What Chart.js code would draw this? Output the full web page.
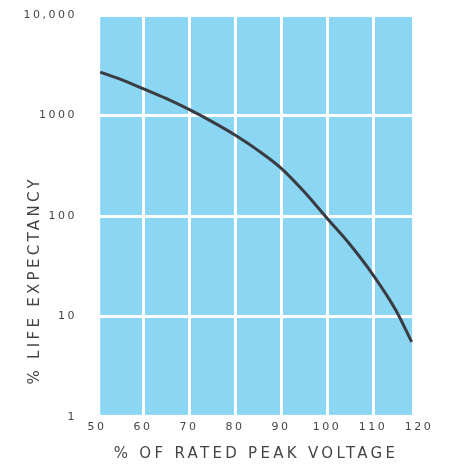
<!DOCTYPE html>
<html>
<head>
<meta charset="utf-8">
<script src="https://cdn.jsdelivr.net/npm/chart.js@4"></script>
<style>
html, body { margin: 0; padding: 0; background: #fff; }
#wrap { width: 451px; height: 465px; }
</style>
</head>
<body>
<div id="wrap"><canvas id="chart1"></canvas></div>
<script>
// values
const voltage = [50.7, 55, 60, 65, 70, 75, 80, 85, 90, 95, 100, 105, 110, 115, 118.4];
const lifeExpectancy = [2700, 2300, 1850, 1480, 1150, 870, 640, 450, 300, 175, 95, 52, 26, 11.5, 5.6];
const xTicks = [50, 60, 70, 80, 90, 100, 110, 120];
const yTicks = [1, 10, 100, 1000, 10000];
const yTickLabels = ['1', '10', '100', '1000', '10,000'];
const xTitle = '% OF RATED PEAK VOLTAGE';
const yTitle = '% LIFE EXPECTANCY';

const panelFrom = 50.7, panelTo = 118.5;
const textColor = '#454545';
const fontFamily = '"DejaVu Sans", sans-serif';

// blue panel behind the grid, and spaced-out axis titles
const panel = {
    id: 'panel',
    beforeDraw(chart) {
        const { ctx, chartArea, scales: { x, y } } = chart;
        ctx.letterSpacing = '2.5px';
        ctx.save();
        ctx.fillStyle = '#8ad6f3';
        const l = x.getPixelForValue(panelFrom);
        const r = x.getPixelForValue(panelTo);
        const b = y.getPixelForValue(1.05);
        ctx.fillRect(l, chartArea.top, r - l, b - chartArea.top);
        ctx.restore();
    },
    afterDraw(chart) {
        const { ctx, chartArea } = chart;
        ctx.save();
        ctx.fillStyle = textColor;
        ctx.font = '15px ' + fontFamily;
        ctx.letterSpacing = '3.3px';
        ctx.textAlign = 'center';
        ctx.textBaseline = 'middle';
        ctx.fillText(xTitle, (chartArea.left + chartArea.right) / 2 - 2, chartArea.bottom + 37);
        ctx.translate(chartArea.left - 62, chartArea.top + (chartArea.bottom - chartArea.top) * 0.66);
        ctx.rotate(-Math.PI / 2);
        ctx.fillText(yTitle, 0, 0);
        ctx.restore();
    }
};

(function() {
    const chart = document.getElementById('chart1');

    const data = {
        datasets: [{
            data: voltage.map((v, i) => ({ x: v, y: lifeExpectancy[i] })),
            borderColor: '#3b3b42',
            borderWidth: 3,
            pointRadius: 0,
            cubicInterpolationMode: 'monotone',
            fill: false
        }]
    };

    const config = {
        type: 'line',
        data: data,
        plugins: [panel],
        options: {
            responsive: true,
            maintainAspectRatio: false,
            animation: false,
            layout: { autoPadding: false, padding: { top: 15, right: 32, left: 0, bottom: 0 } },
            plugins: { legend: { display: false }, tooltip: { enabled: false } },
            scales: {
                x: {
                    type: 'linear',
                    min: xTicks[0],
                    max: xTicks[xTicks.length - 1],
                    afterBuildTicks: s => { s.ticks = xTicks.map(v => ({ value: v })); },
                    afterFit: s => { s.height = 48; },
                    border: { display: false },
                    grid: { color: '#ffffff', lineWidth: 3, drawTicks: false },
                    ticks: {
                        padding: 4,
                        color: textColor,
                        font: { family: fontFamily, size: 11 }
                    }
                },
                y: {
                    type: 'logarithmic',
                    min: yTicks[0],
                    max: yTicks[yTicks.length - 1],
                    afterBuildTicks: s => { s.ticks = yTicks.map(v => ({ value: v })); },
                    // fixed width; drop the label padding so the plot keeps its top edge
                    afterFit: s => { s.width = 97; s.paddingTop = 0; s.paddingBottom = 0; },
                    border: { display: false },
                    grid: { color: '#ffffff', lineWidth: 3, drawTicks: false },
                    ticks: {
                        padding: 20,
                        color: textColor,
                        font: { family: fontFamily, size: 11 },
                        callback: (v, i) => yTickLabels[i]
                    }
                }
            }
        }
    };

    new Chart(chart, config);
})();
</script>
</body>
</html>
